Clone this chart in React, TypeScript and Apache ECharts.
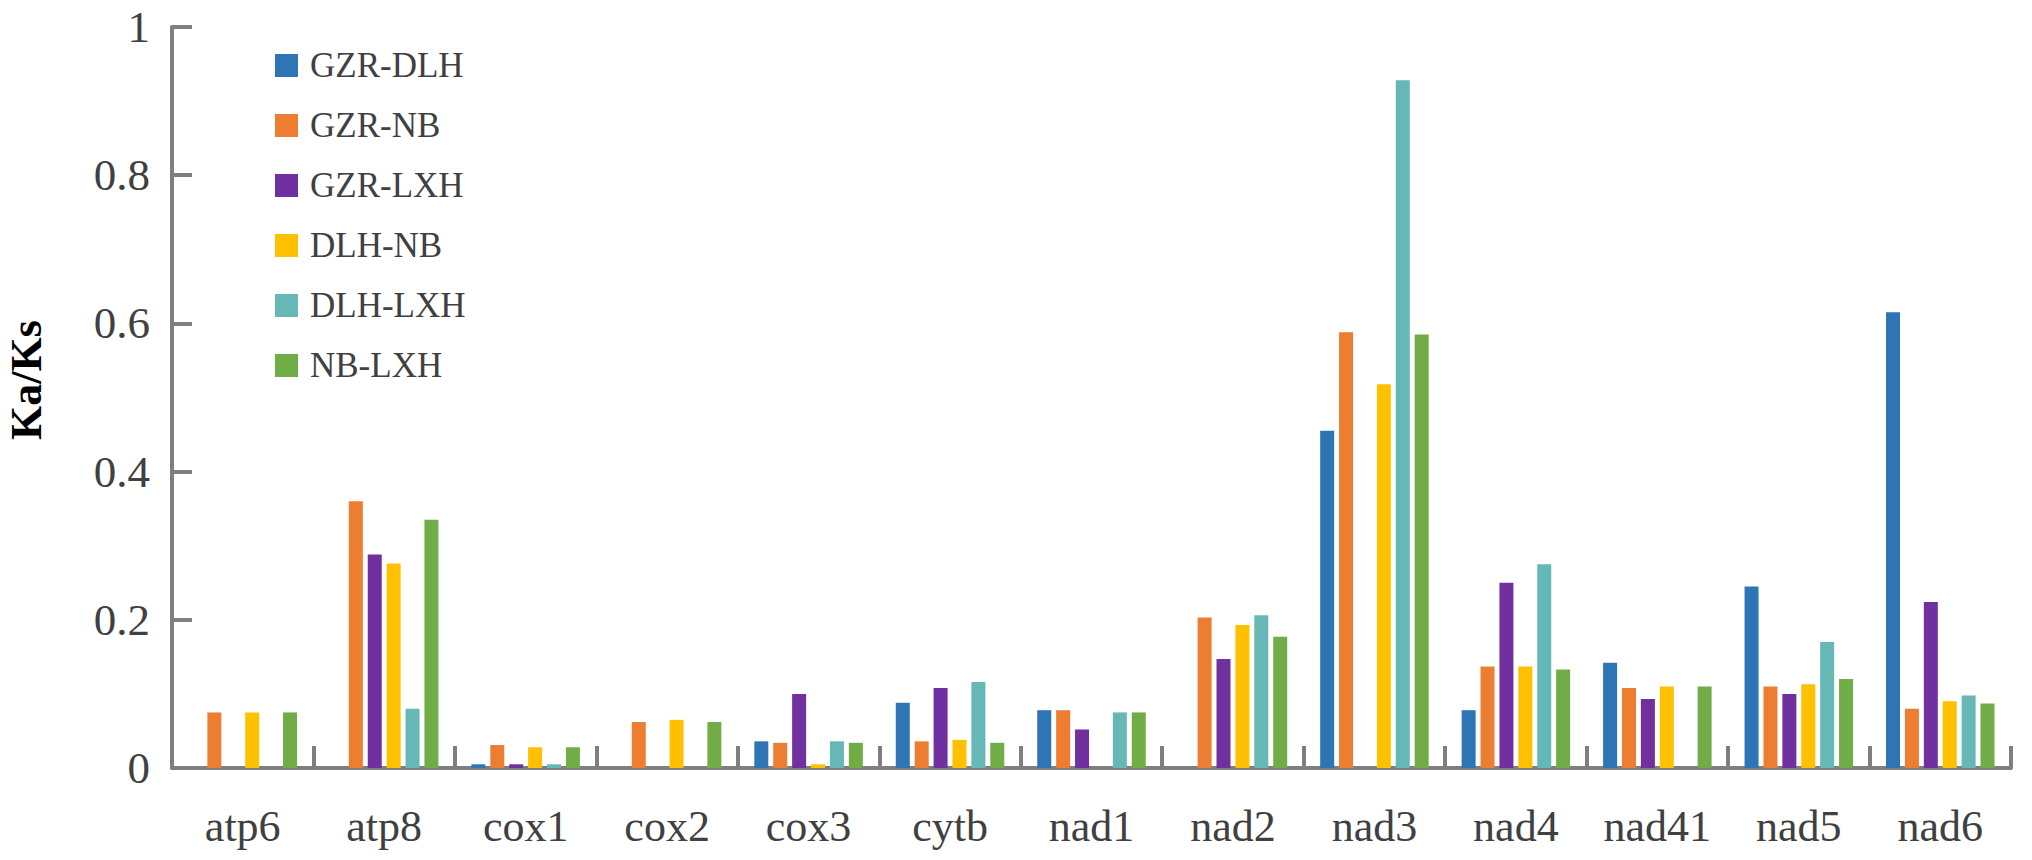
import React, { useEffect, useRef } from "react";
import * as echarts from "echarts";

const categories = ["atp6", "atp8", "cox1", "cox2", "cox3", "cytb", "nad1", "nad2", "nad3", "nad4", "nad41", "nad5", "nad6"];
const seriesNames = ["GZR-DLH", "GZR-NB", "GZR-LXH", "DLH-NB", "DLH-LXH", "NB-LXH"];
const colors = ["#2E75B6", "#ED7D31", "#7030A0", "#FFC000", "#66B8B6", "#70AD47"];

const gzrDlh = [0, 0, 0.005, 0, 0.036, 0.088, 0.078, 0, 0.455, 0.078, 0.142, 0.245, 0.615];
const gzrNb = [0.075, 0.36, 0.031, 0.062, 0.034, 0.036, 0.078, 0.203, 0.588, 0.137, 0.108, 0.11, 0.08];
const gzrLxh = [0, 0.288, 0.005, 0, 0.1, 0.108, 0.052, 0.147, 0, 0.25, 0.093, 0.1, 0.224];
const dlhNb = [0.075, 0.276, 0.028, 0.065, 0.005, 0.038, 0, 0.193, 0.518, 0.137, 0.11, 0.113, 0.09];
const dlhLxh = [0, 0.08, 0.005, 0, 0.036, 0.116, 0.075, 0.206, 0.928, 0.275, 0, 0.17, 0.098];
const nbLxh = [0.075, 0.335, 0.028, 0.062, 0.034, 0.034, 0.075, 0.177, 0.585, 0.133, 0.11, 0.12, 0.087];

const yTicks = { min: 0, max: 1, interval: 0.2 };
const allValues = [gzrDlh, gzrNb, gzrLxh, dlhNb, dlhLxh, nbLxh];

const FONT = "'Liberation Serif', 'Times New Roman', serif";
const AXIS_GRAY = "#7F7F7F";

export default function App() {
  const ref = useRef<HTMLDivElement>(null);
  useEffect(() => {
    document.body.style.margin = "0";
    if (!ref.current) return;
    const chart = echarts.init(ref.current, undefined, { renderer: "svg" });
    chart.setOption({
      animation: false,
      backgroundColor: "#ffffff",
      grid: { left: 172, right: 21, top: 27, bottom: 92, containLabel: false },
      legend: {
        orient: "vertical",
        left: 270,
        top: 43,
        itemWidth: 23,
        itemHeight: 23,
        itemGap: 25,
        icon: "rect",
        data: seriesNames,
        textStyle: {
          fontFamily: FONT,
          fontSize: 35,
          color: "#404040",
          lineHeight: 35,
          padding: [0, 0, 0, 7],
        },
      },
      xAxis: {
        type: "category",
        data: categories,
        axisLine: { lineStyle: { color: AXIS_GRAY, width: 4 } },
        axisTick: { show: true, inside: true, length: 22, interval: 0, lineStyle: { color: AXIS_GRAY, width: 4 } },
        axisLabel: { fontFamily: FONT, fontSize: 44, color: "#404040", margin: 36, interval: 0 },
        splitLine: { show: false },
      },
      yAxis: {
        type: "value",
        min: yTicks.min,
        max: yTicks.max,
        interval: yTicks.interval,
        axisLine: { show: true, lineStyle: { color: AXIS_GRAY, width: 4 } },
        axisTick: { show: true, inside: true, length: 20, lineStyle: { color: AXIS_GRAY, width: 4 } },
        axisLabel: { fontFamily: FONT, fontSize: 45, lineHeight: 46, color: "#404040", margin: 22 },
        splitLine: { show: false },
      },
      graphic: [
        {
          type: "text",
          x: 26,
          y: 380,
          rotation: Math.PI / 2,
          style: {
            text: "Ka/Ks",
            fontFamily: FONT,
            fontSize: 44,
            fontWeight: "bold",
            fill: "#000000",
            align: "center",
            verticalAlign: "middle",
          },
        },
      ],
      series: seriesNames.map((name, i) => ({
        name,
        type: "bar",
        data: allValues[i],
        barWidth: 14,
        barGap: "35%",
        itemStyle: { color: colors[i] },
      })),
    });
    return () => chart.dispose();
  }, []);
  return <div ref={ref} style={{ width: 2032, height: 860 }} />;
}
